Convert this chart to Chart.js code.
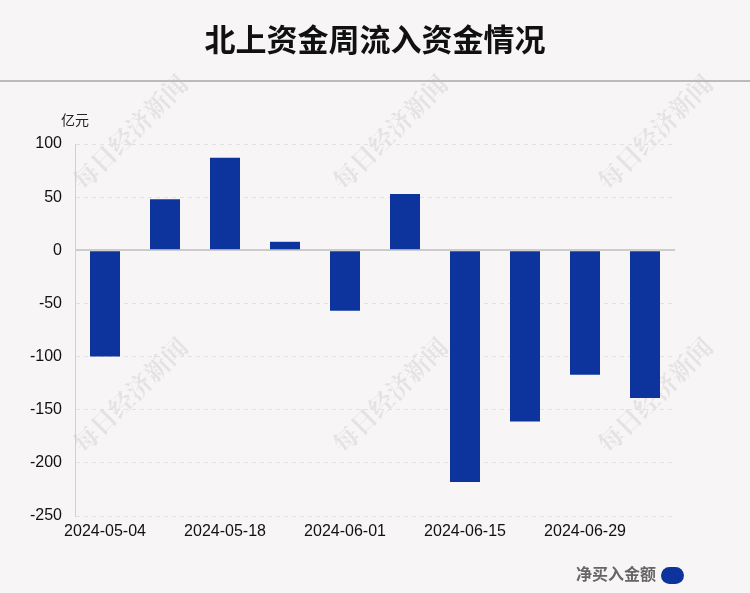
<!DOCTYPE html>
<html>
<head>
<meta charset="utf-8">
<script src="https://cdn.jsdelivr.net/npm/chart.js@4"></script>
<style>
  html, body { margin: 0; padding: 0; background: #f8f5f6; }
  #wrap { width: 750px; height: 593px; }
</style>
</head>
<body>
<div id="wrap"><canvas id="myChart" width="750" height="593"></canvas></div>
<script>
// 周度日期（周六）
var weeks = ['2024-05-04', '2024-05-11', '2024-05-18', '2024-05-25', '2024-06-01',
             '2024-06-08', '2024-06-15', '2024-06-22', '2024-06-29', '2024-07-06'];
// 净买入金额，亿元
var netBuy = [-100, 48, 87, 8, -57, 53, -218, -161, -117, -139];
var yTicks = [100, 50, 0, -50, -100, -150, -200, -250];

var titleText = '北上资金周流入资金情况';
var unitText = '亿元';
var legendText = '净买入金额';
var markText = '每日经济新闻';
var barColor = '#0c349c';
var fontFam = '"Liberation Sans", Arial, "Noto Sans CJK SC", sans-serif';

// 标题、分隔线、单位、图例、水印
var decor = {
  id: 'decor',
  beforeDraw: function (chart) {
    var c = chart.ctx;
    c.save();
    // 水印
    c.fillStyle = 'rgba(0,0,0,0.075)';
    c.font = 'bold 25px "Noto Serif CJK SC", "Noto Sans CJK SC", serif';
    c.textAlign = 'center';
    c.textBaseline = 'middle';
    [[130, 132], [390, 132], [655, 132], [130, 395], [390, 395], [655, 395]].forEach(function (p) {
      c.save();
      c.translate(p[0], p[1]);
      c.rotate(-Math.PI / 4);
      c.fillText(markText, 0, 0);
      c.restore();
    });
    // 标题
    c.fillStyle = '#111';
    c.font = 'bold 31px "Noto Sans CJK SC", sans-serif';
    c.fillText(titleText, 375, 39);
    // 分隔线
    c.strokeStyle = '#bbbbbb';
    c.lineWidth = 2;
    c.beginPath();
    c.moveTo(0, 81);
    c.lineTo(750, 81);
    c.stroke();
    // 单位
    c.fillStyle = '#222';
    c.font = '14px "Noto Sans CJK SC", sans-serif';
    c.textAlign = 'left';
    c.fillText(unitText, 61, 120);
    // 图例
    c.fillStyle = '#666';
    c.font = 'bold 16px "Noto Sans CJK SC", sans-serif';
    c.textAlign = 'right';
    c.fillText(legendText, 656, 574);
    c.fillStyle = barColor;
    c.beginPath();
    c.roundRect(661, 567, 23, 17, 8.5);
    c.fill();
    c.restore();
  }
};

var ctx = document.getElementById('myChart').getContext('2d');
var chart = new Chart(ctx, {
  type: 'bar',
  data: {
    labels: weeks,
    datasets: [{
      label: legendText,
      data: netBuy,
      backgroundColor: barColor,
      borderWidth: 0,
      barPercentage: 0.5,
      categoryPercentage: 1
    }]
  },
  plugins: [decor],
  options: {
    responsive: false,
    animation: false,
    layout: { padding: { left: 0, right: 75, top: 144, bottom: 0 } },
    plugins: {
      legend: { display: false },
      tooltip: { enabled: false }
    },
    scales: {
      x: {
        grid: { display: false, drawTicks: false },
        border: { display: false },
        ticks: {
          autoSkip: false,
          maxRotation: 0,
          padding: 6,
          color: '#111',
          font: { size: 16, family: fontFam },
          callback: function (v, i) { return i % 2 === 0 ? weeks[i] : ''; }
        },
        afterFit: function (s) { s.height = 77; }
      },
      y: {
        min: -250,
        max: 100,
        afterBuildTicks: function (s) {
          s.ticks = yTicks.map(function (v) { return { value: v }; });
        },
        grid: {
          drawTicks: false,
          color: function (c) { return c.tick && c.tick.value === 0 ? '#cccccc' : '#e2e0e1'; },
          lineWidth: function (c) { return c.tick && c.tick.value === 0 ? 2 : 1; }
        },
        border: {
          display: true,
          color: '#d0d0d0',
          width: 1,
          dash: function (c) { return c.type === 'tick' && c.tick.value !== 0 ? [4, 4] : []; }
        },
        ticks: {
          padding: 13,
          color: '#111',
          font: { size: 16, family: fontFam }
        },
        afterFit: function (s) { s.width = 75; }
      }
    }
  }
});
</script>
</body>
</html>
